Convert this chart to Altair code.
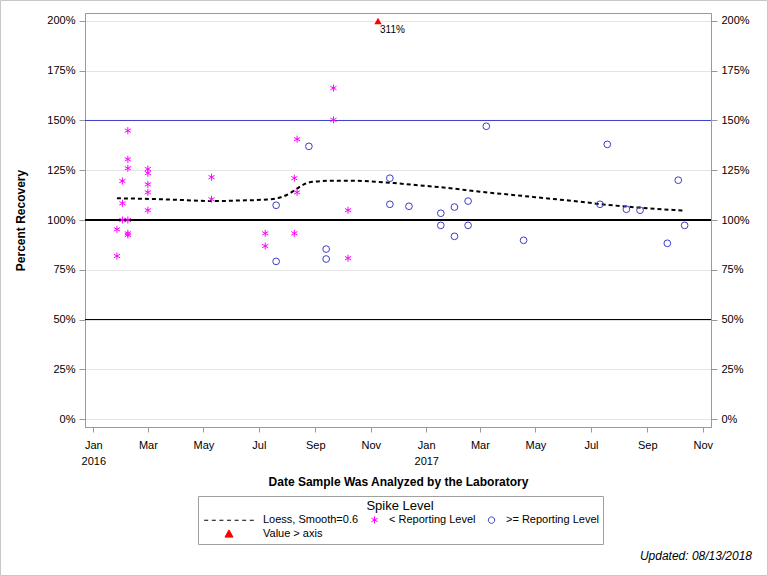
import altair as alt
import pandas as pd

# ---------------- data ----------------
star_dates = [
    "2016-01-27", "2016-01-27",
    "2016-02-02", "2016-02-02", "2016-02-02",
    "2016-02-08", "2016-02-08", "2016-02-08", "2016-02-08", "2016-02-08", "2016-02-08",
    "2016-03-01", "2016-03-01", "2016-03-01", "2016-03-01", "2016-03-01",
    "2016-05-10", "2016-05-10",
    "2016-07-08", "2016-07-08",
    "2016-08-09", "2016-08-09",
    "2016-08-12", "2016-08-12",
    "2016-09-21", "2016-09-21",
    "2016-10-07", "2016-10-07",
]
star_values = [
    95.3, 81.9,
    119.6, 108.4, 100.0,
    144.9, 130.5, 126.0, 100.0, 93.3, 92.5,
    125.6, 123.5, 117.9, 113.9, 104.9,
    121.5, 110.4,
    93.3, 86.9,
    121.0, 93.3,
    140.6, 113.9,
    166.3, 150.3,
    104.9, 80.8,
]

circle_dates = [
    "2016-07-20", "2016-07-20", "2016-08-25", "2016-09-13", "2016-09-13",
    "2016-11-22", "2016-11-22", "2016-12-13", "2017-01-17", "2017-01-17",
    "2017-02-01", "2017-02-01", "2017-02-16", "2017-02-16", "2017-03-08",
    "2017-04-18", "2017-07-11", "2017-07-19", "2017-08-09", "2017-08-24",
    "2017-09-23", "2017-10-05", "2017-10-12",
]
circle_values = [
    107.4, 79.2, 137.0, 85.4, 80.4,
    121.0, 107.9, 106.9, 103.4, 97.3,
    106.5, 91.8, 109.5, 97.3, 147.1,
    89.8, 107.9, 138.0, 105.4, 104.9,
    88.3, 120.0, 97.3,
]

loess_dates = [
    "2016-01-27", "2016-03-03", "2016-04-10", "2016-05-10", "2016-06-10",
    "2016-07-10", "2016-07-25", "2016-08-04", "2016-08-12", "2016-08-20",
    "2016-08-30", "2016-09-18", "2016-10-14", "2016-11-08", "2016-11-30",
    "2016-12-29", "2017-01-23", "2017-03-01", "2017-04-06", "2017-05-13",
    "2017-06-19", "2017-07-11", "2017-08-24", "2017-10-12",
]
loess_values = [
    110.9, 110.6, 110.0, 109.5, 109.8,
    110.3, 111.4, 113.4, 115.8, 118.0,
    119.2, 119.7, 119.7, 119.2, 118.4,
    117.2, 116.2, 114.2, 112.6, 110.9,
    109.2, 108.0, 106.2, 104.7,
]

over_dates = ["2016-11-09"]
over_values = [311]

ref_values = [50, 100, 150]
y_ticks = [0, 25, 50, 75, 100, 125, 150, 175, 200]
x_tick_dates = [
    "2016-01-01", "2016-03-01", "2016-05-01", "2016-07-01", "2016-09-01", "2016-11-01",
    "2017-01-01", "2017-03-01", "2017-05-01", "2017-07-01", "2017-09-01", "2017-11-01",
]
# (order of the two middle entries is swapped by the legend layout; this yields Loess, <, >=)
legend_labels = ["Loess, Smooth=0.6", ">= Reporting Level", "< Reporting Level", "Value > axis"]
updated_text = ["Updated: 08/13/2018"]

# ---------------- styling ----------------
FONT = "Liberation Sans"
MAGENTA = "#ff00ff"
BLUE = "#3c3cc8"
GRAY = "#9a9a9a"


def ms(s):
    return int(pd.Timestamp(s, tz="UTC").value // 10**6)


DAY = 86400000
x_scale = alt.Scale(type="utc", domain=[ms("2016-01-01") - int(9.1 * DAY), ms("2017-11-10")])
y_scale = alt.Scale(domain=[-4, 204], nice=False, zero=False)

x_axis = alt.Axis(
    values=[ms(d) for d in x_tick_dates],
    labelExpr="utcmonth(datum.value) == 0 ? [utcFormat(datum.value, '%b'), utcFormat(datum.value, '%Y')] : utcFormat(datum.value, '%b')",
    labelFontSize=11, labelColor="black", labelPadding=7, labelLineHeight=16,
    labelFlush=False, labelOverlap=False, labelBound=False,
    tickSize=5, tickColor=GRAY, domainColor=GRAY, grid=False,
    title="Date Sample Was Analyzed by the Laboratory",
    titleFontSize=12, titleFontWeight="bold", titleColor="black",
    titleY=54, titleBaseline="middle",
)

y_axis_left = alt.Axis(
    values=y_ticks, labelExpr="datum.value + '%'", orient="left",
    grid=True, gridColor="#e4e4e4", tickSize=6, tickColor=GRAY, domainColor=GRAY,
    labelFontSize=11, labelPadding=4, labelColor="black",
    labelFlush=False, labelOverlap=False,
    title="Percent Recovery", titleFontSize=12, titleFontWeight="bold", titleColor="black",
    titleX=-65, titleY=207, titleAngle=270, titleAlign="center", titleBaseline="middle",
)
y_axis_right = alt.Axis(
    values=y_ticks, labelExpr="datum.value + '%'", orient="right",
    grid=False, tickSize=6, tickColor=GRAY, domainColor=GRAY,
    labelFontSize=11, labelPadding=4, labelColor="black",
    labelFlush=False, labelOverlap=False, title=None,
)


def X():
    return alt.X("date:T", scale=x_scale, axis=x_axis)


def Y(field, axis=None):
    if axis is None:
        return alt.Y(field, scale=y_scale, axis=None)
    return alt.Y(field, scale=y_scale, axis=axis)


stars_df = pd.DataFrame({"date": star_dates, "value": star_values})
circles_df = pd.DataFrame({"date": circle_dates, "value": circle_values})
loess_df = pd.DataFrame({"date": loess_dates, "value": loess_values})
over_df = pd.DataFrame({"date": over_dates, "value": over_values})
ref_df = pd.DataFrame({"value": ref_values})

STAR = "M0,-1L0,1M-0.87,-0.5L0.87,0.5M-0.87,0.5L0.87,-0.5"

rule50 = alt.Chart(ref_df).transform_filter("datum.value == 50").mark_rule(
    color="black", strokeWidth=1).encode(y=Y("value:Q", y_axis_left))
rule100 = alt.Chart(ref_df).transform_filter("datum.value == 100").mark_rule(
    color="black", strokeWidth=2).encode(y=Y("value:Q", y_axis_right))
rule150 = alt.Chart(ref_df).transform_filter("datum.value == 150").mark_rule(
    color=BLUE, strokeWidth=1).encode(y=Y("value:Q"))

loess = alt.Chart(loess_df).mark_line(
    color="black", strokeWidth=2, strokeDash=[4, 3], interpolate="monotone"
).encode(x=X(), y=Y("value:Q"))

stars = alt.Chart(stars_df).mark_point(
    shape=STAR, filled=False, color=MAGENTA, size=50, strokeWidth=1, opacity=1
).encode(x=X(), y=Y("value:Q"))

circles = alt.Chart(circles_df).mark_point(
    shape="circle", filled=False, color=BLUE, size=45, strokeWidth=1, opacity=1
).encode(x=X(), y=Y("value:Q"))

over_base = alt.Chart(over_df).transform_calculate(
    yplot="min(datum.value, 200)", lbl="datum.value + '%'")
over_pt = over_base.mark_point(
    shape="triangle-up", filled=True, color="red", size=55, opacity=1
).encode(x=X(), y=Y("yplot:Q"))
over_txt = over_base.mark_text(
    align="left", baseline="middle", dx=2, dy=9, fontSize=10, color="black"
).encode(x=X(), y=Y("yplot:Q"), text="lbl:N")

# legend (uses Vega-Lite's own legend; no data drawn by this layer)
legend_paths = [
    "M-6.2,0h1M-4.3,0h1M-2.4,0h1M-0.5,0h1M1.4,0h1M3.3,0h1M5.2,0h1",
    "M0.8,0A0.8,0.8,0,1,1,-0.8,0A0.8,0.8,0,1,1,0.8,0Z",
    "M0,-0.9V0.9M-0.78,-0.45L0.78,0.45M-0.78,0.45L0.78,-0.45",
    "M0,-0.9L1,0.9L-1,0.9Z",
]
legend_strokes = ["black", BLUE, MAGENTA, "red"]
legend_fills = ["transparent", "transparent", "transparent", "red"]
col1_test = "(datum.value == 'Loess, Smooth=0.6' || datum.value == 'Value > axis')"
leg = alt.Legend(
    title="Spike Level", orient="none", legendX=113, legendY=483, columns=3,
    values=legend_labels,
    titleAnchor="middle", titleFontSize=13, titleFontWeight="normal", titleColor="black",
    titlePadding=1, labelFontSize=11, labelColor="black", symbolSize=64, symbolStrokeWidth=1,
    labelOffset={"expr": col1_test + " ? 28.5 : 9"},
    symbolOffset={"expr": col1_test + " ? 21.5 : 0"},
    columnPadding=10, rowPadding=1, padding=4,
    strokeColor="#a0a0a0", fillColor="white",
)
legend_df = pd.DataFrame({"series": legend_labels})
legend_layer = alt.Chart(legend_df).transform_filter("false").mark_point(
    size=64, strokeWidth=1, opacity=1
).encode(
    shape=alt.Shape("series:N", sort=legend_labels, scale=alt.Scale(domain=legend_labels, range=legend_paths), legend=leg),
    stroke=alt.Stroke("series:N", sort=legend_labels, scale=alt.Scale(domain=legend_labels, range=legend_strokes), legend=leg),
    fill=alt.Fill("series:N", sort=legend_labels, scale=alt.Scale(domain=legend_labels, range=legend_fills), legend=leg),
)

updated = alt.Chart(pd.DataFrame({"t": updated_text})).mark_text(
    align="right", baseline="middle", fontSize=12, fontStyle="italic", color="black"
).encode(text="t:N", x=alt.value(667), y=alt.value(543))

border = alt.Chart(pd.DataFrame({"t": updated_text})).mark_rect(
    fill="transparent", stroke="#c8c8c8", strokeWidth=1
).encode(x=alt.value(-84.5), x2=alt.value(682.5), y=alt.value(-12.5), y2=alt.value(562.5))

chart = alt.layer(
    rule50, rule150, rule100, loess, stars, circles, over_pt, over_txt,
    legend_layer, updated, border,
).resolve_scale(y="independent").properties(
    width=626, height=414,
    autosize=alt.AutoSizeParams(type="none"),
    padding={"left": 85, "top": 13, "right": 57, "bottom": 149},
).configure(font=FONT).configure_view(stroke=GRAY, strokeWidth=1)

chart.save("out.html", embed_options={"renderer": "svg", "actions": False})
